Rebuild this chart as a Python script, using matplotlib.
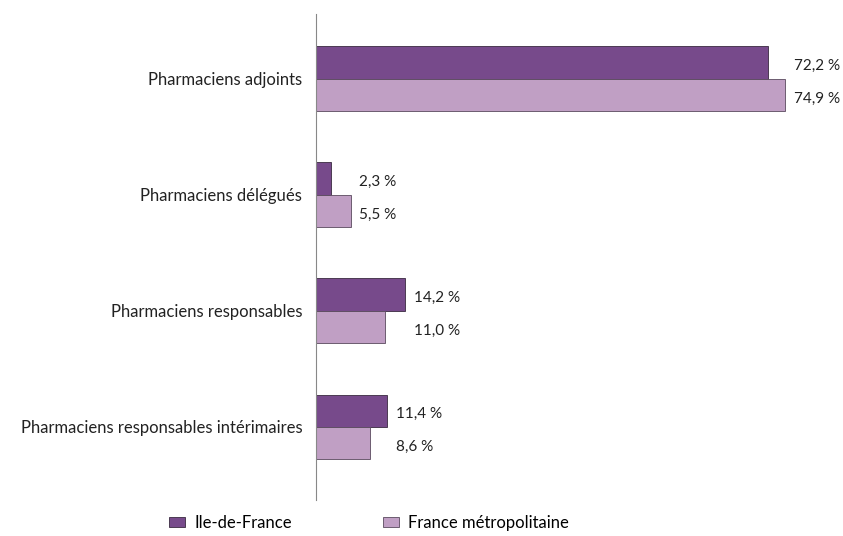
import numpy as np
import matplotlib.pyplot as plt

plt.rcParams['font.family'] = ['Lato', 'DejaVu Sans']

categories = ['Pharmaciens adjoints', 'Pharmaciens délégués',
              'Pharmaciens responsables', 'Pharmaciens responsables intérimaires']
idf = [72.2, 2.3, 14.2, 11.4]
france = [74.9, 5.5, 11.0, 8.6]
series_names = ['Ile-de-France', 'France métropolitaine']
colors = ['#774a8b', '#c09fc4']

fig = plt.figure(figsize=(8.43, 5.36), dpi=100)
ax = fig.add_axes([0.375, 0.067, 0.625, 0.907])

y = np.arange(len(categories))
h = 0.28
b1 = ax.barh(y - h / 2, idf, height=h, color=colors[0], edgecolor='#3a2a40',
             linewidth=0.6, label=series_names[0])
b2 = ax.barh(y + h / 2, france, height=h, color=colors[1], edgecolor='#5a4a5e',
             linewidth=0.6, label=series_names[1])

# labels placed just right of the longer bar in each group
for i in range(len(categories)):
    xl = max(idf[i], france[i]) + 1.4
    ax.text(xl, y[i] - h / 2 + 0.03, f"{idf[i]:.1f} %".replace('.', ','),
            va='center', ha='left', fontsize=11, color='#222222')
    ax.text(xl, y[i] + h / 2 + 0.035, f"{france[i]:.1f} %".replace('.', ','),
            va='center', ha='left', fontsize=11, color='#222222')

ax.set_yticks(y)
ax.set_yticklabels(categories, fontsize=12, color='#222222')
ax.tick_params(axis='y', length=0, pad=10)
ax.set_xticks([])
ax.set_xlim(0, 84.2)
ax.set_ylim(3.63, -0.56)
for s in ['top', 'right', 'bottom']:
    ax.spines[s].set_visible(False)
ax.spines['left'].set_color('#888888')
ax.spines['left'].set_linewidth(0.8)

fig.legend(handles=[b1, b2], loc='lower left', bbox_to_anchor=(164 / 843, 0.0),
           ncol=2, frameon=False, fontsize=12, handlelength=0.95,
           handleheight=0.55, columnspacing=5.5, handletextpad=0.55,
           borderpad=0.3, borderaxespad=0)

plt.savefig('out.png', dpi=100)
